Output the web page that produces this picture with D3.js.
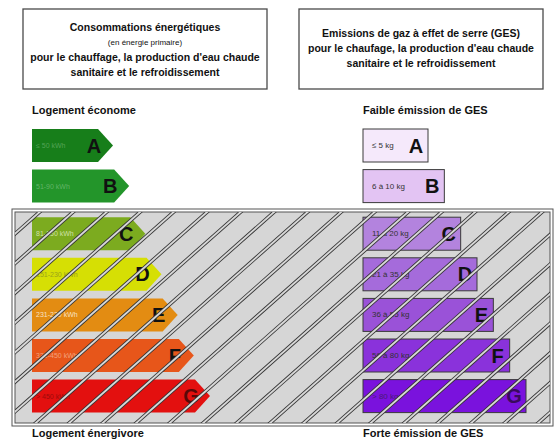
<!DOCTYPE html>
<html>
<head>
<meta charset="utf-8">
<script src="https://cdn.jsdelivr.net/npm/d3@7"></script>
<style>
  body { margin: 0; background: #fff; }
  svg { display: block; font-family: "Liberation Sans", Arial, sans-serif; }
</style>
</head>
<body>
<div id="dpe"></div>
<script>
// classes and their ranges
const classes = ['A', 'B', 'C', 'D', 'E', 'F', 'G'];
const energyLabels = ['≤ 50 kWh', '51-90 kWh', '81-150 kWh', '151-230 kWh', '231-230 kWh', '331-450 kWh', '> 450 kWh'];
const gesLabels = ['≤ 5 kg', '6 à 10 kg', '11 à 20 kg', '21 à 35 kg', '36 à 55 kg', '56 à 80 kg', '> 80 kg'];

const energyTitle = ['Consommations énergétiques', '(en énergie primaire)', 'pour le chauffage, la production d\'eau chaude', 'sanitaire et le refroidissement'];
const gesTitle = ['Emissions de gaz à effet de serre (GES)', 'pour le chaufage, la production d\'eau chaude', 'sanitaire et le refroidissement'];

const energyColors = ['#177e1a', '#23952a', '#7cab1f', '#d6df04', '#e38c12', '#e7561a', '#e3100f'];
const energyLabelColors = ['#53a356', '#61b466', '#cfe0a4', '#9aa31a', '#f8e0c0', '#f2a27c', '#9c0b0b'];
const gesColors = ['#f5e9fb', '#e3c4f3', '#b383de', '#a56bdb', '#9a52d8', '#8a32db', '#7a12dd'];

const width = 555, height = 439;
const svg = d3.select('#dpe').append('svg')
  .attr('width', width).attr('height', height);

// rows : gap between B and the hatched block
const rowH = 33;
const y = d3.scalePoint().domain(classes).range([129, 129 + 6 * 40.6]);
const rowTop = c => y(c) + (classes.indexOf(c) >= 2 ? 7 : 0);
const energyTip = d3.scaleLinear().domain([0, 6]).range([113, 210]);
const gesRight = d3.scaleLinear().domain([0, 6]).range([428, 526]);

// title boxes
function titleBox(x, w, lines, baselines, sizes, weights) {
  svg.append('rect').attr('x', x).attr('y', 9).attr('width', w).attr('height', 80)
    .attr('fill', '#fff').attr('stroke', '#4a4a4a').attr('stroke-width', 1.3);
  svg.append('g').attr('text-anchor', 'middle').selectAll('text')
    .data(lines).join('text')
    .attr('x', x + w / 2)
    .attr('y', (s, i) => baselines[i])
    .attr('font-size', (s, i) => sizes[i])
    .attr('font-weight', (s, i) => weights[i])
    .attr('fill', '#111')
    .text(s => s);
}
titleBox(23, 244, energyTitle, [31, 45, 61, 76], [10.5, 8, 10.5, 10.5], ['bold', 'normal', 'bold', 'bold']);
titleBox(299, 244, gesTitle, [37, 52, 67], [10.5, 10.5, 10.5], ['bold', 'bold', 'bold']);

// headings
const headings = [
  ['Logement économe', 32, 114],
  ['Faible émission de GES', 363, 114],
  ['Logement énergivore', 32, 437],
  ['Forte émission de GES', 363, 437]
];
svg.append('g').selectAll('text').data(headings).join('text')
  .attr('x', h => h[1]).attr('y', h => h[2])
  .attr('font-size', 11).attr('font-weight', 'bold').attr('fill', '#111')
  .text(h => h[0]);

// hatched block
const bx = 12, by = 209, bw = 541, bh = 217;
svg.append('rect').attr('x', bx).attr('y', by).attr('width', bw).attr('height', bh)
  .attr('fill', '#fff').attr('stroke', '#555').attr('stroke-width', 1);
svg.append('rect').attr('x', bx + 3).attr('y', by + 3).attr('width', bw - 6).attr('height', bh - 6)
  .attr('fill', '#d6d6d6').attr('stroke', '#555').attr('stroke-width', 1);

// energy arrows
const erow = svg.append('g').selectAll('g').data(classes).join('g');
erow.append('path')
  .attr('fill', (c, i) => energyColors[i])
  .attr('d', (c, i) => {
    const t = rowTop(c), tip = energyTip(i), x0 = 32;
    return `M${x0},${t}H${tip - 15}L${tip},${t + rowH / 2}L${tip - 15},${t + rowH}H${x0}Z`;
  });
erow.append('text')
  .attr('x', 36).attr('y', c => rowTop(c) + rowH / 2 + 2.5)
  .attr('font-size', 7).attr('fill', (c, i) => energyLabelColors[i])
  .text((c, i) => energyLabels[i]);
erow.append('text')
  .attr('x', (c, i) => energyTip(i) - 19).attr('y', c => rowTop(c) + rowH / 2 + 7)
  .attr('text-anchor', 'middle').attr('font-size', 20).attr('font-weight', 'bold')
  .attr('fill', (c, i) => i === 6 ? '#5a0808' : '#111')
  .text(c => c);

// GES bars
const grow = svg.append('g').selectAll('g').data(classes).join('g');
grow.append('rect')
  .attr('x', 363).attr('y', c => rowTop(c))
  .attr('width', (c, i) => gesRight(i) - 363).attr('height', rowH)
  .attr('fill', (c, i) => gesColors[i]).attr('stroke', '#3a3a3a').attr('stroke-width', 1);
grow.append('text')
  .attr('x', 372).attr('y', c => rowTop(c) + rowH / 2 + 2.5)
  .attr('font-size', 8).attr('fill', (c, i) => i === 6 ? '#4a1a7a' : '#333')
  .text((c, i) => gesLabels[i]);
grow.append('text')
  .attr('x', (c, i) => gesRight(i) - 12).attr('y', c => rowTop(c) + rowH / 2 + 7)
  .attr('text-anchor', 'middle').attr('font-size', 20).attr('font-weight', 'bold')
  .attr('fill', (c, i) => i === 6 ? '#3a0a5e' : '#111')
  .text(c => c);

// diagonal double hatch over the block
const defs = svg.append('defs');
defs.append('clipPath').attr('id', 'blockClip')
  .append('rect').attr('x', bx + 3).attr('y', by + 3).attr('width', bw - 6).attr('height', bh - 6);
const run = bh * 1.13, sp = 33.5;
const starts = d3.range(43 - 9 * sp, bx + bw + run, sp);
const segs = starts.map(x => ({x1: x - run, y1: by + bh, x2: x, y2: by}));
const hatch = svg.append('g').attr('clip-path', 'url(#blockClip)');
hatch.selectAll('line.ho').data(segs).join('line').attr('class', 'ho')
  .attr('x1', s => s.x1).attr('y1', s => s.y1).attr('x2', s => s.x2).attr('y2', s => s.y2)
  .attr('stroke', '#333').attr('stroke-width', 3.6);
hatch.selectAll('line.hi').data(segs).join('line').attr('class', 'hi')
  .attr('x1', s => s.x1).attr('y1', s => s.y1).attr('x2', s => s.x2).attr('y2', s => s.y2)
  .attr('stroke', '#f4f4f4').attr('stroke-width', 1.9).attr('stroke-opacity', 0.85);
</script>
</body>
</html>
